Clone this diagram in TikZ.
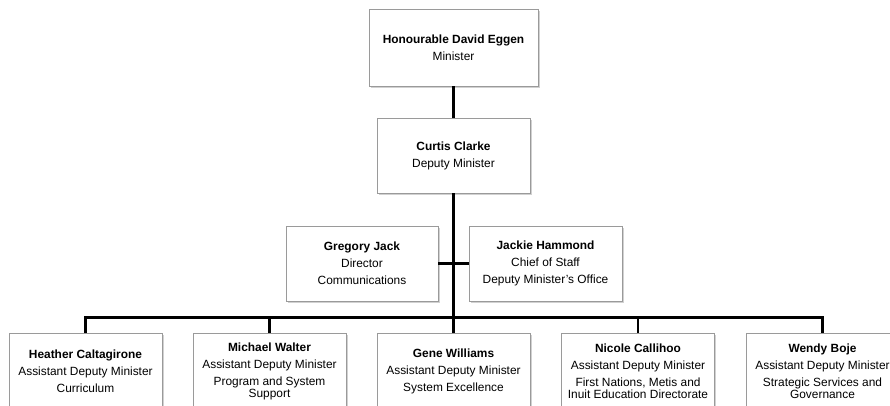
\documentclass[tikz,border=0pt]{standalone}
\usepackage{fontspec}
\setmainfont{Liberation Sans}
\usetikzlibrary{shadows}
\definecolor{boxline}{HTML}{9A9A9A}
\tikzset{
  orgbox/.style={draw=boxline, line width=0.9pt, fill=white, align=center,
    minimum width=153pt, minimum height=76pt, inner sep=0pt,
    font=\fontsize{11.9}{17}\selectfont,
    drop shadow={shadow xshift=1.6pt, shadow yshift=-1.6pt, fill=black!30, opacity=0.6}},
  link/.style={line width=2.6pt, black},
}
\newcommand{\wrapgap}{\\[-4.6pt]}
\begin{document}
\begin{tikzpicture}[x=1pt,y=-1pt]
\useasboundingbox (0,0) rectangle (890,405);
\node[orgbox, minimum width=169pt, minimum height=77pt] (min) at (453.5,47.5)
  {\textbf{Honourable David Eggen}\\Minister};
\node[orgbox, minimum height=75pt] (dm) at (453.5,155.5)
  {\textbf{Curtis Clarke}\\Deputy Minister};
\node[orgbox, minimum width=152pt, minimum height=75pt] (gj) at (362,263.5)
  {\textbf{Gregory Jack}\\Director\\Communications};
\node[orgbox, minimum height=75pt] (jh) at (545.5,263.5)
  {\textbf{Jackie Hammond}\\Chief of Staff\\Deputy Minister's Office};
\node[orgbox, minimum height=77pt] (b1) at (85.5,371.5)
  {\textbf{Heather Caltagirone}\\Assistant Deputy Minister\\Curriculum};
\node[orgbox, minimum height=77pt] (b2) at (269.5,371.5)
  {\textbf{Michael Walter}\\Assistant Deputy Minister\\Program and System\wrapgap Support};
\node[orgbox, minimum height=77pt] (b3) at (453.5,371.5)
  {\textbf{Gene Williams}\\Assistant Deputy Minister\\System Excellence};
\node[orgbox, minimum height=77pt] (b4) at (638,371.5)
  {\textbf{Nicole Callihoo}\\Assistant Deputy Minister\\First Nations, Metis and\wrapgap Inuit Education Directorate};
\node[orgbox, minimum height=77pt] (b5) at (822.5,371.5)
  {\textbf{Wendy Boje}\\Assistant Deputy Minister\\Strategic Services and\wrapgap Governance};
\coordinate (bus) at (453.5,317.5);
\draw[link] (min.south) -- (dm.north);
\draw[link] (dm.south) -- (bus);
\draw[link] (gj.east) -- (jh.west);
\draw[link] (b1.north) -- (b1.north |- bus) -- (b5.north |- bus) -- (b5.north);
\draw[link] (b2.north) -- (b2.north |- bus);
\draw[link] (b3.north) -- (bus);
\draw[link] (b4.north) -- (b4.north |- bus);
\end{tikzpicture}
\end{document}
